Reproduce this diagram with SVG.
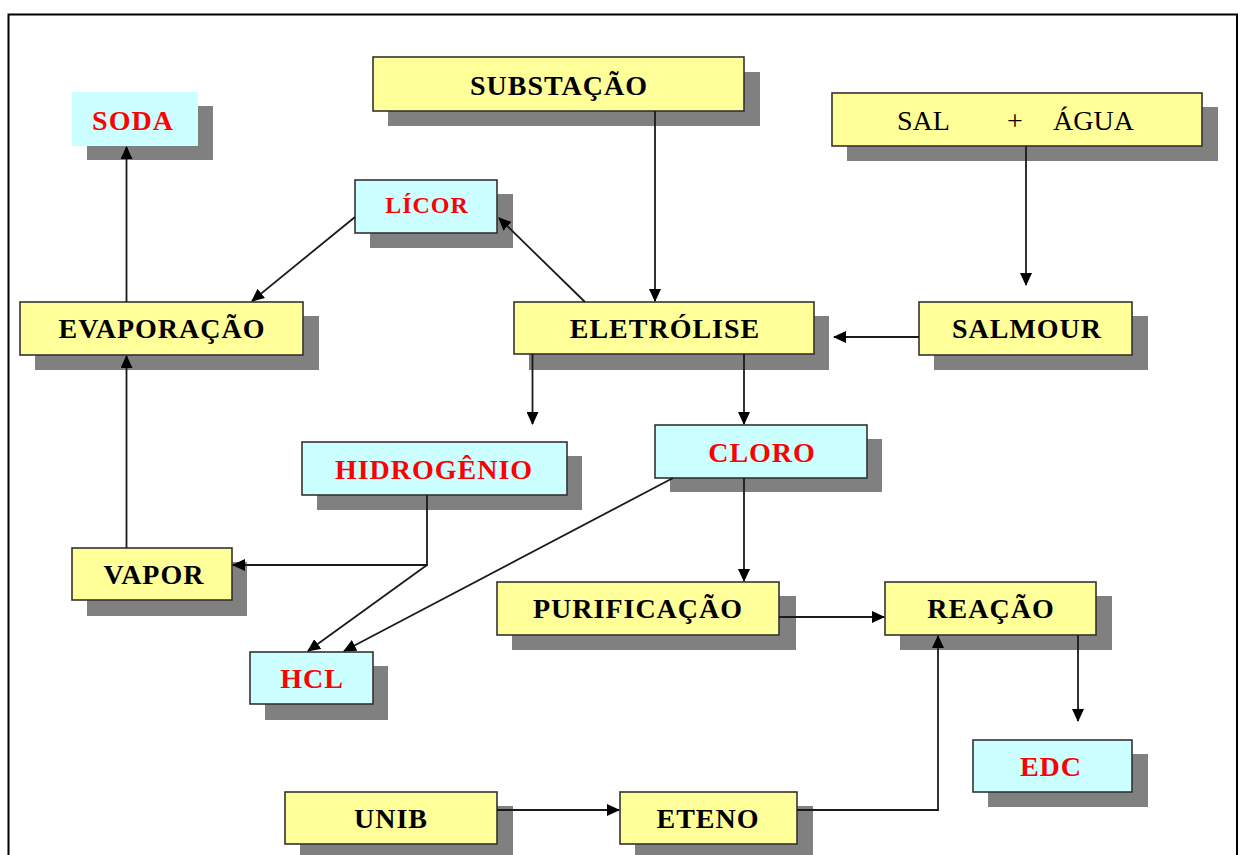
<svg xmlns="http://www.w3.org/2000/svg" width="1242" height="855" viewBox="0 0 1242 855">
<style>
.sh{fill:#808080}
.y{fill:#FFFF99;stroke:#333;stroke-width:1.6}
.c{fill:#CCFFFF;stroke:#333;stroke-width:1.6}
.cn{fill:#CCFFFF}
.t{font-family:"Liberation Serif","Times New Roman",serif;font-weight:bold;font-size:28px;letter-spacing:1px;text-anchor:middle}
.k{fill:#000}
.r{fill:#FF0000}
.e{fill:none;stroke:#1a1a1a;stroke-width:1.8}
</style>
<defs>
<marker id="ah" markerUnits="userSpaceOnUse" markerWidth="14" markerHeight="12" refX="12" refY="6" orient="auto">
<path d="M0,0 L13,6 L0,12 Z" fill="#000"/>
</marker>
</defs>
<rect width="1242" height="855" fill="#fff"/>
<path d="M8.5,856 V14.5 H1237 V856" fill="none" stroke="#000" stroke-width="2"/>

<g id="soda">
<rect class="sh" x="87" y="106" width="126" height="54"/>
<rect class="cn" x="72" y="92" width="126" height="54"/>
<text class="t r" x="133" y="130">SODA</text>
</g>
<g id="substacao">
<rect class="sh" x="388" y="72" width="372" height="54"/>
<rect class="y" x="373" y="57" width="371" height="54"/>
<text class="t k" x="559" y="95">SUBSTAÇÃO</text>
</g>
<g id="sal-agua">
<rect class="sh" x="847" y="107" width="371" height="54"/>
<rect class="y" x="832" y="93" width="370" height="53"/>
<text font-family="Liberation Serif, Times New Roman, serif" font-size="28" fill="#000" y="130"><tspan x="897">SAL</tspan><tspan x="1007">+</tspan><tspan x="1053">ÁGUA</tspan></text>
</g>
<g id="licor">
<rect class="sh" x="370" y="194" width="143" height="54"/>
<rect class="c" x="355" y="180" width="142" height="53"/>
<text class="t r" x="427" y="213" style="font-size:24px">LÍCOR</text>
</g>
<g id="evaporacao">
<rect class="sh" x="35" y="316" width="284" height="54"/>
<rect class="y" x="20" y="302" width="283" height="53"/>
<text class="t k" x="162" y="338">EVAPORAÇÃO</text>
</g>
<g id="eletrolise">
<rect class="sh" x="529" y="316" width="300" height="54"/>
<rect class="y" x="514" y="302" width="300" height="52"/>
<text class="t k" x="665" y="338">ELETRÓLISE</text>
</g>
<g id="salmour">
<rect class="sh" x="934" y="316" width="214" height="54"/>
<rect class="y" x="919" y="302" width="213" height="53"/>
<text class="t k" x="1027" y="338">SALMOUR</text>
</g>
<g id="hidrogenio">
<rect class="sh" x="317" y="456" width="265" height="54"/>
<rect class="c" x="302" y="442" width="265" height="53"/>
<text class="t r" x="434" y="479">HIDROGÊNIO</text>
</g>
<g id="cloro">
<rect class="sh" x="670" y="439" width="212" height="53"/>
<rect class="c" x="655" y="425" width="212" height="53"/>
<text class="t r" x="762" y="462">CLORO</text>
</g>
<g id="vapor">
<rect class="sh" x="87" y="562" width="160" height="54"/>
<rect class="y" x="72" y="548" width="160" height="52"/>
<text class="t k" x="154" y="584">VAPOR</text>
</g>
<g id="purificacao">
<rect class="sh" x="512" y="596" width="284" height="54"/>
<rect class="y" x="497" y="582" width="282" height="53"/>
<text class="t k" x="638" y="618">PURIFICAÇÃO</text>
</g>
<g id="reacao">
<rect class="sh" x="900" y="596" width="212" height="54"/>
<rect class="y" x="885" y="582" width="211" height="53"/>
<text class="t k" x="991" y="618">REAÇÃO</text>
</g>
<g id="hcl">
<rect class="sh" x="265" y="666" width="123" height="54"/>
<rect class="c" x="250" y="652" width="123" height="52"/>
<text class="t r" x="312" y="688">HCL</text>
</g>
<g id="edc">
<rect class="sh" x="988" y="754" width="160" height="53"/>
<rect class="c" x="973" y="740" width="159" height="52"/>
<text class="t r" x="1051" y="776">EDC</text>
</g>
<g id="unib">
<rect class="sh" x="300" y="806" width="213" height="54"/>
<rect class="y" x="285" y="792" width="212" height="52"/>
<text class="t k" x="391" y="828">UNIB</text>
</g>
<g id="eteno">
<rect class="sh" x="635" y="806" width="178" height="54"/>
<rect class="y" x="620" y="792" width="177" height="52"/>
<text class="t k" x="708" y="828">ETENO</text>
</g>

<g id="connectors">
<path class="e" d="M126.5,302 V147" marker-end="url(#ah)"/>
<path class="e" d="M355,217 L252,301" marker-end="url(#ah)"/>
<path class="e" d="M585,302 L499,218" marker-end="url(#ah)"/>
<path class="e" d="M655,111 V301" marker-end="url(#ah)"/>
<path class="e" d="M1026,146 V285" marker-end="url(#ah)"/>
<path class="e" d="M919,337 H834" marker-end="url(#ah)"/>
<path class="e" d="M532.5,354 V424" marker-end="url(#ah)"/>
<path class="e" d="M744,354 V424" marker-end="url(#ah)"/>
<path class="e" d="M126.5,548 V356" marker-end="url(#ah)"/>
<path class="e" d="M427,495 V565 H233" marker-end="url(#ah)"/>
<path class="e" d="M427,565 L308,651" marker-end="url(#ah)"/>
<path class="e" d="M673,478 L344,651" marker-end="url(#ah)"/>
<path class="e" d="M744,478 V581" marker-end="url(#ah)"/>
<path class="e" d="M779,617 H884" marker-end="url(#ah)"/>
<path class="e" d="M1078,635 V721" marker-end="url(#ah)"/>
<path class="e" d="M497,810 H619" marker-end="url(#ah)"/>
<path class="e" d="M797,810 H938 V636" marker-end="url(#ah)"/>
</g>
</svg>
